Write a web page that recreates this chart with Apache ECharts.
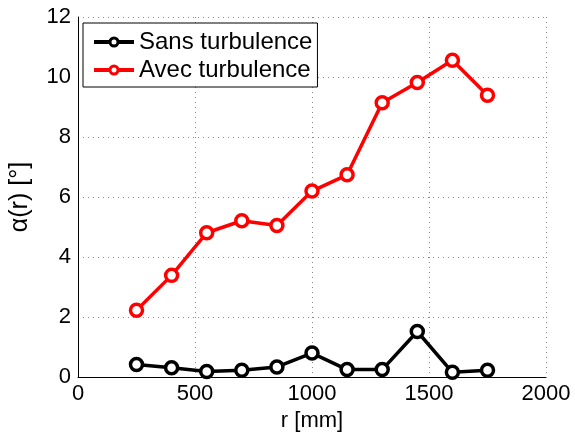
<!DOCTYPE html>
<html>
<head>
<meta charset="utf-8">
<script src="https://cdn.jsdelivr.net/npm/echarts@6/dist/echarts.min.js"></script>
<style>
  html, body { margin: 0; padding: 0; background: #fff; }
  #chart { width: 575px; height: 437px; }
</style>
</head>
<body>
<div id="chart"></div>
<script>
// Radial positions r [mm]
const radius = [250, 400, 550, 700, 850, 1000, 1150, 1300, 1450, 1600, 1750];
// Angle alpha(r) in degrees
const sansTurbulence = [0.42, 0.31, 0.19, 0.23, 0.34, 0.80, 0.25, 0.25, 1.52, 0.16, 0.23];
const avecTurbulence = [2.23, 3.39, 4.81, 5.21, 5.05, 6.20, 6.74, 9.14, 9.82, 10.56, 9.39];
const seriesNames = ['Sans turbulence', 'Avec turbulence'];
const seriesColors = ['#000000', '#ff0000'];

const font = 'Liberation Sans, Arial, Helvetica, sans-serif';

function pairs(ys) {
  return radius.map((r, i) => [r, ys[i]]);
}

function lineSeries(name, ys, color) {
  return {
    name: name,
    type: 'line',
    data: pairs(ys),
    symbol: 'circle',
    symbolSize: 12,
    showSymbol: true,
    lineStyle: { color: color, width: 3.5 },
    itemStyle: { color: '#ffffff', borderColor: color, borderWidth: 3.5 },
    emphasis: { disabled: true },
    z: 3
  };
}

const chart = echarts.init(document.getElementById('chart'), null, { renderer: 'canvas' });

const gridLine = { show: true, lineStyle: { color: '#888', type: [1, 4], width: 1 } };

chart.setOption({
  animation: false,
  backgroundColor: '#ffffff',
  grid: { left: 77, right: 29, top: 17, bottom: 56, containLabel: false },
  legend: {
    orient: 'vertical',
    left: 83,
    top: 23,
    padding: [7, 5, 5, 9],
    itemGap: 4,
    itemWidth: 40,
    itemHeight: 10,
    backgroundColor: '#ffffff',
    borderColor: '#000000',
    borderWidth: 1,
    lineStyle: { width: 4 },
    itemStyle: { borderWidth: 3 },
    textStyle: { fontFamily: font, fontSize: 24, color: '#000' },
    data: seriesNames
  },
  xAxis: {
    type: 'value',
    min: 0,
    max: 2000,
    interval: 500,
    name: 'r [mm]',
    nameLocation: 'middle',
    nameGap: 32,
    nameTextStyle: { fontFamily: font, fontSize: 22, color: '#000' },
    axisLine: { show: true, onZero: false, lineStyle: { color: '#000', width: 1 } },
    axisTick: { show: false },
    axisLabel: { fontFamily: font, fontSize: 22, color: '#000', margin: 6, formatter: v => String(v) },
    splitLine: gridLine
  },
  yAxis: {
    type: 'value',
    min: 0,
    max: 12,
    interval: 2,
    name: 'α(r) [°]',
    nameLocation: 'middle',
    nameGap: 45,
    nameTextStyle: { fontFamily: font, fontSize: 25, color: '#000' },
    axisLine: { show: true, lineStyle: { color: '#000', width: 1 } },
    axisTick: { show: false },
    axisLabel: { fontFamily: font, fontSize: 22, color: '#000', margin: 7, formatter: v => String(v) },
    splitLine: gridLine
  },
  series: [
    lineSeries(seriesNames[0], sansTurbulence, seriesColors[0]),
    lineSeries(seriesNames[1], avecTurbulence, seriesColors[1])
  ]
});
</script>
</body>
</html>
